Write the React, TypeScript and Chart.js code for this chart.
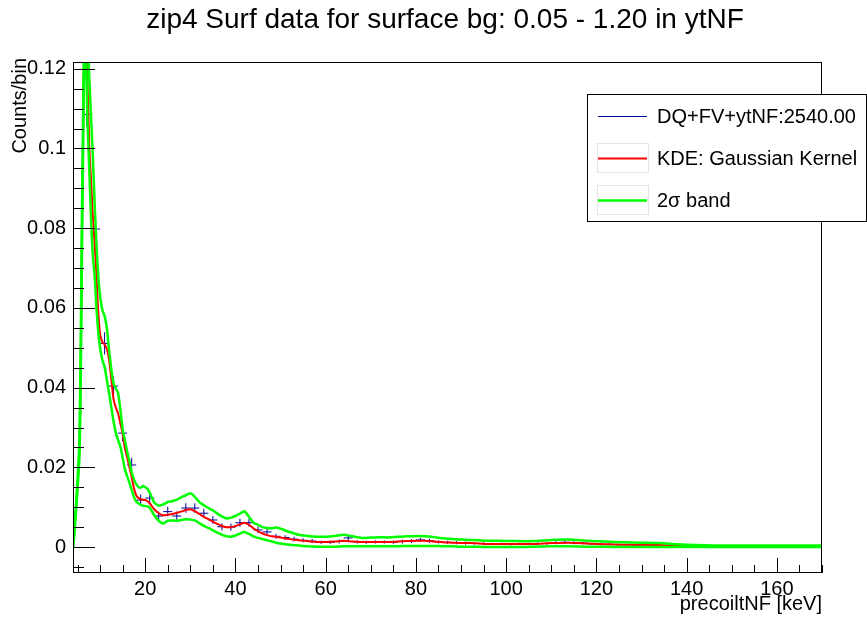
import React, { useEffect, useRef } from "react";
import { Chart, registerables } from "chart.js";

Chart.register(...registerables);

const TITLE = "zip4 Surf data for surface bg: 0.05 - 1.20 in ytNF";
const X_TITLE = "precoiltNF [keV]";
const Y_TITLE = "Counts/bin";
const HIST_LABEL = "DQ+FV+ytNF:2540.00";
const KDE_LABEL = "KDE: Gaussian Kernel";
const BAND_LABEL = "2σ band";

const X_MIN = 4;
const X_MAX = 170;
const Y_MIN = -0.0065;
const Y_MAX = 0.1217;

const xTicks = [20, 40, 60, 80, 100, 120, 140, 160];
const yTicks = [0, 0.02, 0.04, 0.06, 0.08, 0.1, 0.12];

// histogram (2 keV bins)
const binHalfWidth = 1;
const binCenters = [
  7, 9, 11, 13, 15, 17, 19, 21, 23, 25,
  27, 29, 31, 33, 35, 37, 39, 41, 43, 45,
  47, 49, 51, 53, 55, 57, 59, 61, 63, 65,
  67, 69, 71, 73, 75, 77, 79, 81, 83, 85,
  87, 89, 91, 93, 95, 97, 99, 101, 103, 105,
  107, 109, 111, 113, 115, 117, 119, 121, 123, 125,
  127, 129, 131, 133, 135, 137, 139, 141, 143, 145,
  147, 149,
];
const binValues = [
  0.1085, 0.0798, 0.0511, 0.0404, 0.0286, 0.0206, 0.0118, 0.0123, 0.0078, 0.0089,
  0.0078, 0.0098, 0.0098, 0.0085, 0.0068, 0.0051, 0.005, 0.0061, 0.0061, 0.0043,
  0.0038, 0.0027, 0.0024, 0.002, 0.0017, 0.0015, 0.0012, 0.0012, 0.0014, 0.0023,
  0.0013, 0.0012, 0.0013, 0.0013, 0.0012, 0.0014, 0.0015, 0.0018, 0.0016, 0.0013,
  0.0012, 0.0011, 0.001, 0.0009, 0.0009, 0.0008, 0.0008, 0.0007, 0.0008, 0.0008,
  0.0009, 0.0009, 0.0011, 0.0012, 0.0011, 0.001, 0.0008, 0.0007, 0.0007, 0.0006,
  0.0006, 0.0005, 0.0006, 0.0005, 0.0004, 0.0003, 0.0002, 0.0001, 0.0001, 0.0001,
  0.0001, 0.0001,
];
const binErrors = [
  0.0028, 0.0026, 0.0028, 0.0025, 0.0021, 0.0018, 0.0014, 0.0014, 0.0011, 0.0012,
  0.0011, 0.0012, 0.0012, 0.0011, 0.001, 0.0009, 0.0009, 0.001, 0.001, 0.0008,
  0.0008, 0.0006, 0.0006, 0.0006, 0.0005, 0.0005, 0.0004, 0.0004, 0.0005, 0.0006,
  0.0004, 0.0004, 0.0004, 0.0004, 0.0004, 0.0005, 0.0005, 0.0005, 0.0005, 0.0004,
  0.0004, 0.0004, 0.0004, 0.0003, 0.0003, 0.0003, 0.0003, 0.0003, 0.0003, 0.0003,
  0.0003, 0.0003, 0.0004, 0.0004, 0.0004, 0.0003, 0.0003, 0.0003, 0.0003, 0.0003,
  0.0003, 0.0002, 0.0003, 0.0002, 0.0002, 0.0002, 0.0001, 0.0001, 0.0001, 0.0001,
  0.0001, 0.0001,
];

// KDE curve and 2 sigma band
const kdeX = [
  4, 4.3, 4.8, 5.4, 5.7, 5.95, 6.2, 6.45, 6.9, 7.2,
  7.6, 8, 8.4, 8.8, 9.2, 9.6, 10, 10.5, 11, 11.5,
  12, 12.5, 13, 13.5, 14, 14.5, 15, 15.5, 16, 16.5,
  17, 17.5, 18, 18.5, 19, 19.5, 20, 20.5, 21, 22,
  23, 24, 25, 26, 27, 28, 29, 30, 31, 32,
  33, 34, 35, 36, 37, 38, 39, 40, 41, 42,
  43, 44, 45, 46, 47, 48, 49, 50, 52, 54,
  56, 58, 60, 62, 64, 66, 68, 70, 72, 74,
  76, 78, 80, 82, 84, 86, 88, 90, 92, 94,
  96, 98, 102, 106, 110, 114, 118, 122, 126, 130,
  134, 138, 142, 146, 150, 155, 160, 165, 170,
];
const kdeY = [
  0, 0.004, 0.012, 0.024, 0.045, 0.075, 0.1, 0.122, 0.13, 0.117,
  0.101, 0.092, 0.083, 0.076, 0.068, 0.059, 0.0535, 0.0515, 0.0508, 0.0497,
  0.047, 0.042, 0.037, 0.035, 0.0335, 0.031, 0.0285, 0.0248, 0.0225, 0.02,
  0.0176, 0.0148, 0.013, 0.0123, 0.012, 0.0119, 0.0118, 0.0115, 0.011, 0.0095,
  0.0085, 0.008, 0.0081, 0.0083, 0.0086, 0.0089, 0.0093, 0.0095, 0.009, 0.0083,
  0.0076, 0.007, 0.0064, 0.0058, 0.0053, 0.005, 0.005, 0.0053, 0.0057, 0.0061,
  0.0056, 0.0047, 0.004, 0.0034, 0.003, 0.0027, 0.0026, 0.0024, 0.002, 0.0017,
  0.0015, 0.0013, 0.0013, 0.0014, 0.0016, 0.0014, 0.0013, 0.0013, 0.0013, 0.0013,
  0.0014, 0.0015, 0.0016, 0.0016, 0.0014, 0.0012, 0.0011, 0.001, 0.001, 0.0009,
  0.0008, 0.0008, 0.0008, 0.0008, 0.001, 0.0011, 0.0009, 0.0007, 0.0006, 0.0006,
  0.0005, 0.0003, 0.0002, 0.0001, 0.0001, 0.0001, 0.0001, 0.0001, 0.0001,
];
const bandUpper = [
  0, 0.005, 0.013, 0.026, 0.05, 0.08, 0.105, 0.127, 0.14, 0.13,
  0.118, 0.108, 0.098, 0.086, 0.076, 0.068, 0.063, 0.0595, 0.058, 0.055,
  0.0494, 0.0445, 0.041, 0.0398, 0.0386, 0.0345, 0.0296, 0.0268, 0.024, 0.0215,
  0.0188, 0.017, 0.0158, 0.0151, 0.0149, 0.0153, 0.015, 0.0146, 0.0137, 0.0112,
  0.0104, 0.0107, 0.0113, 0.0115, 0.0119, 0.0125, 0.013, 0.0135, 0.0126, 0.0113,
  0.0105, 0.0098, 0.0092, 0.0084, 0.0077, 0.0072, 0.0074, 0.0078, 0.0084, 0.009,
  0.0076, 0.0061, 0.0056, 0.005, 0.0048, 0.0047, 0.0049, 0.0046, 0.0038, 0.0031,
  0.0028, 0.0026, 0.0026, 0.0028, 0.0031, 0.0027, 0.0023, 0.0024, 0.0025, 0.0024,
  0.0026, 0.0027, 0.0028, 0.0027, 0.0025, 0.0022, 0.002, 0.0019, 0.0018, 0.0017,
  0.0016, 0.0016, 0.0015, 0.0015, 0.0018, 0.0019, 0.0016, 0.0014, 0.0012, 0.0011,
  0.001, 0.0007, 0.0005, 0.0004, 0.0004, 0.0004, 0.0004, 0.0004, 0.0004,
];
const bandLower = [
  0, 0.003, 0.011, 0.022, 0.04, 0.07, 0.095, 0.118, 0.122, 0.107,
  0.095, 0.082, 0.073, 0.068, 0.06, 0.054, 0.05, 0.047, 0.0452, 0.042,
  0.0386, 0.035, 0.0315, 0.0286, 0.0268, 0.0252, 0.0225, 0.0195, 0.0178, 0.0162,
  0.0143, 0.0126, 0.0114, 0.011, 0.0106, 0.0104, 0.0103, 0.0102, 0.0099, 0.008,
  0.0066, 0.0059, 0.0066, 0.0067, 0.0066, 0.0068, 0.007, 0.0069, 0.0067, 0.006,
  0.0053, 0.0048, 0.0042, 0.0036, 0.0031, 0.0027, 0.0026, 0.0029, 0.0034, 0.0038,
  0.0033, 0.0027, 0.0023, 0.002, 0.0017, 0.0014, 0.0011, 0.0009, 0.0006, 0.0004,
  0.0002, 0.0001, 0.0001, 0.0001, 0.0002, 0.0002, 0.0002, 0.0002, 0.0002, 0.0002,
  0.0002, 0.0003, 0.0003, 0.0003, 0.0003, 0.0002, 0.0002, 0.0001, 0.0001, 0.0001,
  0, 0, 0, 0.0001, 0.0002, 0.0002, 0.0001, 0.0001, 0, 0,
  0, 0, 0, 0, 0, 0, 0, 0, 0,
];

const FONT = "'Liberation Sans', Arial, Helvetica, sans-serif";
const HIST_COLOR = "#000099";
const KDE_COLOR = "#ff0000";
const BAND_COLOR = "#00ff00";

function buildHistogram() {
  const pts: any[] = [];
  binCenters.forEach((c, i) => {
    const v = binValues[i];
    const e = binErrors[i];
    pts.push({ x: c - binHalfWidth, y: v });
    pts.push({ x: c + binHalfWidth, y: v });
    pts.push({ x: c, y: null });
    pts.push({ x: c, y: v - e });
    pts.push({ x: c, y: v + e });
    pts.push({ x: c, y: null });
  });
  return pts;
}

const rootDecor = {
  id: "rootDecor",
  afterDatasetsDraw(chart: any) {
    const { ctx, chartArea: a, scales } = chart;
    const xs = scales.x;
    const ys = scales.y;
    ctx.save();
    ctx.strokeStyle = "#000";
    ctx.lineWidth = 1;
    ctx.beginPath();
    for (let k = -1; k <= 24; k++) {
      const v = k * 0.005;
      if (v < ys.min || v > ys.max) continue;
      const py = Math.round(ys.getPixelForValue(v)) + 0.5;
      const len = k % 4 === 0 ? 22 : 11;
      ctx.moveTo(a.left, py);
      ctx.lineTo(a.left + len, py);
    }
    for (let k = 1; k <= 34; k++) {
      const v = k * 5;
      if (v < xs.min || v > xs.max) continue;
      const px = Math.round(xs.getPixelForValue(v)) + 0.5;
      const len = k % 4 === 0 ? 15 : 8;
      ctx.moveTo(px, a.bottom);
      ctx.lineTo(px, a.bottom - len);
    }
    ctx.stroke();
    ctx.strokeRect(
      Math.round(a.left) + 0.5,
      Math.round(a.top) + 0.5,
      Math.round(a.right - a.left) - 1,
      Math.round(a.bottom - a.top) - 1
    );
    ctx.restore();
  },
  afterDraw(chart: any) {
    const { ctx, chartArea: a } = chart;
    ctx.save();
    ctx.fillStyle = "#000";
    // title
    ctx.font = `28px ${FONT}`;
    ctx.textAlign = "center";
    ctx.textBaseline = "middle";
    ctx.fillText(TITLE, 445, 20);
    // x title
    ctx.font = `20px ${FONT}`;
    ctx.textAlign = "right";
    ctx.fillText(X_TITLE, a.right, 604);
    // y title
    ctx.save();
    ctx.translate(20, a.top - 4);
    ctx.rotate(-Math.PI / 2);
    ctx.textAlign = "right";
    ctx.textBaseline = "middle";
    ctx.fillText(Y_TITLE, 0, 0);
    ctx.restore();

    // legend
    const lx = 587.5, ly = 94.5, lw = 279, lh = 127;
    ctx.fillStyle = "#fff";
    ctx.fillRect(lx, ly, lw, lh);
    ctx.strokeStyle = "#000";
    ctx.lineWidth = 1;
    ctx.strokeRect(lx, ly, lw, lh);
    const entries = chart.data.datasets.filter((d: any) => d.label);
    const rows = [116, 158, 200];
    entries.forEach((d: any, i: number) => {
      const ry = rows[i];
      if (d.legendBox) {
        ctx.strokeStyle = "#e4e4e4";
        ctx.lineWidth = 1;
        ctx.strokeRect(597.5, ry - 14.5, 51, 29);
      }
      ctx.strokeStyle = d.borderColor;
      ctx.lineWidth = d.borderWidth;
      ctx.beginPath();
      ctx.moveTo(598, ry + 0.5);
      ctx.lineTo(647, ry + 0.5);
      ctx.stroke();
      ctx.fillStyle = "#000";
      ctx.font = `20px ${FONT}`;
      ctx.textAlign = "left";
      ctx.textBaseline = "middle";
      ctx.fillText(d.label, 657, ry + 1);
    });
    ctx.restore();
  },
};

export default function App() {
  const ref = useRef<HTMLCanvasElement | null>(null);
  useEffect(() => {
    if (!ref.current) return;
    const kdePts = kdeX.map((x, i) => ({ x, y: kdeY[i] }));
    const upPts = kdeX.map((x, i) => ({ x, y: bandUpper[i] }));
    const loPts = kdeX.map((x, i) => ({ x, y: bandLower[i] }));
    const chart = new Chart(ref.current, {
      type: "line",
      data: {
        datasets: [
          {
            label: HIST_LABEL,
            data: buildHistogram(),
            borderColor: HIST_COLOR,
            borderWidth: 1,
            pointRadius: 0,
            spanGaps: false,
            tension: 0,
            order: 3,
            clip: 0,
          } as any,
          {
            label: KDE_LABEL,
            data: kdePts,
            borderColor: KDE_COLOR,
            borderWidth: 2,
            pointRadius: 0,
            tension: 0.3,
            order: 2,
            clip: 0,
            legendBox: true,
          } as any,
          {
            label: BAND_LABEL,
            data: upPts,
            borderColor: BAND_COLOR,
            borderWidth: 2.5,
            pointRadius: 0,
            tension: 0.2,
            order: 1,
            clip: 0,
            legendBox: true,
          } as any,
          {
            label: "",
            data: loPts,
            borderColor: BAND_COLOR,
            borderWidth: 2.5,
            pointRadius: 0,
            tension: 0.2,
            order: 1,
            clip: 0,
          } as any,
        ],
      },
      options: {
        responsive: false,
        animation: false,
        layout: { padding: { left: 0, top: 62, right: 45, bottom: 0 } },
        plugins: { legend: { display: false }, tooltip: { enabled: false }, title: { display: false } },
        scales: {
          x: {
            type: "linear",
            min: X_MIN,
            max: X_MAX,
            grid: { display: false, drawTicks: false },
            border: { display: false },
            afterBuildTicks: (s: any) => {
              s.ticks = xTicks.map((v) => ({ value: v }));
            },
            afterFit: (s: any) => {
              s.height = 48;
            },
            ticks: {
              autoSkip: false,
              maxRotation: 0,
              padding: 4,
              color: "#000",
              font: { family: FONT, size: 20 },
              callback: (v: any) => String(v),
            },
          },
          y: {
            type: "linear",
            min: Y_MIN,
            max: Y_MAX,
            grid: { display: false, drawTicks: false },
            border: { display: false },
            afterBuildTicks: (s: any) => {
              s.ticks = yTicks.map((v) => ({ value: v }));
            },
            afterFit: (s: any) => {
              s.width = 73;
            },
            ticks: {
              autoSkip: false,
              padding: 7,
              color: "#000",
              font: { family: FONT, size: 20 },
              callback: (v: any) => String(v),
            },
          },
        },
      } as any,
      plugins: [rootDecor],
    });
    return () => chart.destroy();
  }, []);
  return (
    <div style={{ position: "absolute", left: 0, top: 0, width: 867, height: 621, background: "#fff" }}>
      <canvas ref={ref} width={867} height={621} style={{ display: "block" }} />
    </div>
  );
}
